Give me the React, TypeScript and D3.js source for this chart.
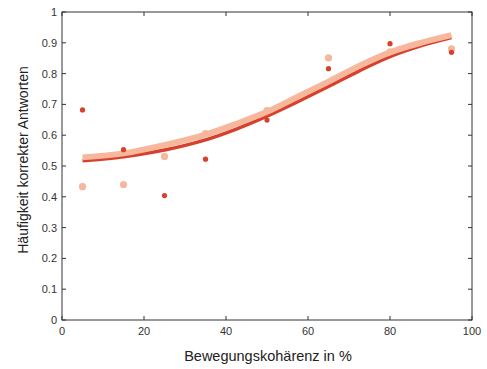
import React from "react";
import * as d3 from "d3";

const coherence = [5, 15, 25, 35, 50, 65, 80, 95];
const darkPoints = [0.682, 0.553, 0.404, 0.522, 0.649, 0.816, 0.897, 0.869];
const lightPoints = [0.433, 0.44, 0.531, 0.605, 0.68, 0.851, 0.871, 0.88];
const fitX = [5, 15, 25, 35, 42.5, 50, 57.5, 65, 72.5, 80, 87.5, 95];
const darkFit = [0.517, 0.53, 0.552, 0.585, 0.62, 0.662, 0.709, 0.758, 0.809, 0.855, 0.89, 0.917];
const lightFit = [0.528, 0.541, 0.568, 0.602, 0.637, 0.676, 0.725, 0.774, 0.825, 0.869, 0.9, 0.925];
const xTicks = [0, 20, 40, 60, 80, 100];
const yTicks = [0, 0.1, 0.2, 0.3, 0.4, 0.5, 0.6, 0.7, 0.8, 0.9, 1];

const DARK = "#d9402b";
const LIGHT = "#f6b79c";
const FONT = "'Liberation Sans', Arial, Helvetica, sans-serif";

export default function App() {
  const W = 487, H = 369;
  const L = 62, R = 472, T = 12, B = 320;
  const x = d3.scaleLinear().domain([0, 100]).range([L, R]);
  const y = d3.scaleLinear().domain([0, 1]).range([B, T]);
  const line = d3
    .line<number>()
    .x((_, i) => x(fitX[i]))
    .curve(d3.curveCatmullRom.alpha(0.5));
  const darkPath = line.y((d) => y(d))(darkFit) || "";
  const lightPath = line.y((d) => y(d))(lightFit) || "";
  const tl = 4;
  return (
    <svg width={W} height={H} style={{ position: "absolute", left: 0, top: 0 }}>
      <rect x={0} y={0} width={W} height={H} fill="#fff" />
      <path d={darkPath} fill="none" stroke={DARK} strokeWidth={3.5} />
      <path d={lightPath} fill="none" stroke={LIGHT} strokeWidth={6} />
      {coherence.map((c, i) => (
        <circle key={"l" + i} cx={x(c)} cy={y(lightPoints[i])} r={3.6} fill={LIGHT} />
      ))}
      {coherence.map((c, i) => (
        <circle key={"d" + i} cx={x(c)} cy={y(darkPoints[i])} r={2.6} fill={DARK} />
      ))}
      <rect x={L} y={T} width={R - L} height={B - T} fill="none" stroke="#333" strokeWidth={1} />
      {xTicks.map((t) => (
        <g key={"x" + t}>
          <line x1={x(t)} x2={x(t)} y1={B} y2={B - tl} stroke="#333" />
          <line x1={x(t)} x2={x(t)} y1={T} y2={T + tl} stroke="#333" />
          <text x={x(t)} y={335} textAnchor="middle" fontSize={11} fontFamily={FONT} fill="#333">
            {t}
          </text>
        </g>
      ))}
      {yTicks.map((t) => (
        <g key={"y" + t}>
          <line x1={L} x2={L + tl} y1={y(t)} y2={y(t)} stroke="#333" />
          <line x1={R} x2={R - tl} y1={y(t)} y2={y(t)} stroke="#333" />
          <text x={57} y={y(t) + 4} textAnchor="end" fontSize={11} fontFamily={FONT} fill="#333">
            {t}
          </text>
        </g>
      ))}
      <text x={268} y={361} textAnchor="middle" fontSize={14.5} fontFamily={FONT} fill="#222">
        Bewegungskohärenz in %
      </text>
      <text
        transform={`translate(28,160) rotate(-90)`}
        textAnchor="middle"
        fontSize={14}
        fontFamily={FONT}
        fill="#222"
      >
        Häufigkeit korrekter Antworten
      </text>
    </svg>
  );
}
